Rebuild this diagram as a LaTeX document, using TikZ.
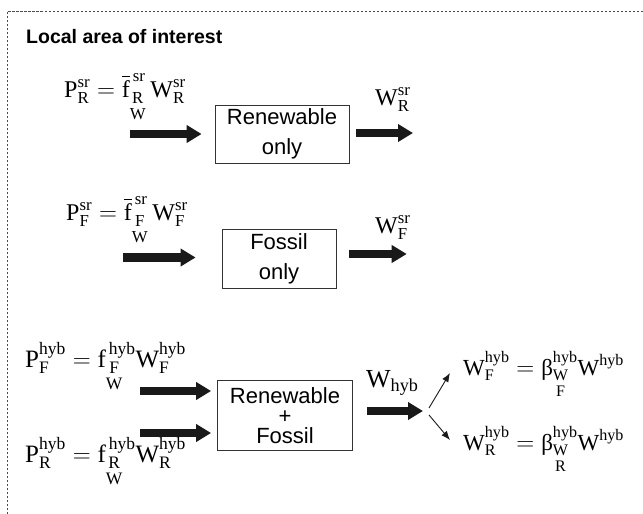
\documentclass[tikz,border=0pt]{standalone}
\usepackage{amsmath}
\usepackage{fontspec}
\setmainfont{Liberation Serif}
\newfontfamily\arialfam{Liberation Sans}
\usetikzlibrary{arrows.meta}
\newcommand{\rmx}[1]{\mathrm{#1}}
\newcommand{\stk}[2]{\vtop{\baselineskip=16pt\lineskiplimit=0pt\lineskip=0pt\halign{\hfil$\scriptstyle##$\hfil\cr\rmx{#1}\cr\rmx{#2}\cr}}}
\begin{document}
\begin{tikzpicture}[x=1pt,y=-1pt,
  eqn/.style={anchor=base west,inner sep=0pt,font=\fontsize{24}{28}\selectfont},
  procbox/.style={draw=black!80,line width=0.8pt,align=center,inner sep=0pt,
    font=\arialfam\fontsize{22}{30}\selectfont},
  bigarrow/.style={line width=8.5pt,black!90,-{Triangle[length=15pt,width=17pt]}},
  thinarrow/.style={line width=0.9pt,black!90,-{Latex[length=9pt,width=7pt]}}]
\useasboundingbox (0,0) rectangle (643,514);
\draw[gray!60!black,line width=0.8pt,dash pattern=on 2.5pt off 1.5pt] (643,11.7) -- (7,11.7) -- (7,514);
\node[anchor=base west,inner sep=0pt,font=\arialfam\bfseries\fontsize{19.5}{23}\selectfont] (title) at (26,43) {Local area of interest};

% equations
\node[eqn] (eq1) at (64,97) {$\rmx{P}^{\rmx{sr}}_{\rmx{R}} = \overline{\rmx{f}}^{\,\rmx{sr}}_{\stk{R}{W}}\,\rmx{W}^{\rmx{sr}}_{\rmx{R}}$};
\node[eqn] (eq2) at (66,220) {$\rmx{P}^{\rmx{sr}}_{\rmx{F}} = \overline{\rmx{f}}^{\,\rmx{sr}}_{\stk{F}{W}}\,\rmx{W}^{\rmx{sr}}_{\rmx{F}}$};
\node[eqn,font=\fontsize{25}{29}\selectfont] (eq3) at (25,367) {$\rmx{P}^{\rmx{hyb}}_{\rmx{F}} = \rmx{f}^{\,\rmx{hyb}}_{\stk{F}{W}}\rmx{W}^{\rmx{hyb}}_{\rmx{F}}$};
\node[eqn,font=\fontsize{25}{29}\selectfont] (eq4) at (25,462) {$\rmx{P}^{\rmx{hyb}}_{\rmx{R}} = \rmx{f}^{\,\rmx{hyb}}_{\stk{R}{W}}\rmx{W}^{\rmx{hyb}}_{\rmx{R}}$};
\node[eqn] (wr) at (375,105) {$\rmx{W}^{\rmx{sr}}_{\rmx{R}}$};
\node[eqn] (wf) at (375,233) {$\rmx{W}^{\rmx{sr}}_{\rmx{F}}$};
\node[eqn,font=\fontsize{26}{30}\selectfont] (whyb) at (366,387) {$\rmx{W}_{\rmx{hyb}}$};
\node[eqn,font=\fontsize{23}{27}\selectfont] (rf) at (463,375) {$\rmx{W}^{\rmx{hyb}}_{\rmx{F}} = \text{β}^{\rmx{hyb}}_{\stk{W}{F}}\rmx{W}^{\rmx{hyb}}$};
\node[eqn,font=\fontsize{23}{27}\selectfont] (rr) at (463,450) {$\rmx{W}^{\rmx{hyb}}_{\rmx{R}} = \text{β}^{\rmx{hyb}}_{\stk{W}{R}}\rmx{W}^{\rmx{hyb}}$};

% boxes
\node[procbox,minimum width=134pt,minimum height=58pt] (box1) at (282,134) {Renewable\\only};
\node[procbox,minimum width=114pt,minimum height=59pt] (box2) at (279,258.5) {Fossil\\only};
\node[procbox,minimum width=135pt,minimum height=70pt,font=\arialfam\fontsize{22}{20}\selectfont] (box3) at (285,415.5) {Renewable\\+\\Fossil};

% coordinates
\coordinate (in1) at (130,134);
\coordinate (out1) at (413,133);
\coordinate (in2) at (123,257.5);
\coordinate (out2) at (406.7,254);
\coordinate (in3a) at (140,391);
\coordinate (in3b) at (140,433);
\coordinate (sp) at (423,411);
\coordinate (s1) at (429,408);
\coordinate (t1) at (450,373);
\coordinate (s2) at (429,415);
\coordinate (t2) at (450,440);

% arrows
\draw[bigarrow,shorten >=13pt] (in1) -- (box1.west);
\draw[bigarrow,shorten <=7pt] (box1.east |- out1) -- (out1);
\draw[bigarrow,shorten >=26pt] (in2) -- (in2 -| box2.west);
\draw[bigarrow,shorten <=13pt] (box2.east |- out2) -- (out2);
\draw[bigarrow,shorten >=6pt] (in3a) -- (in3a -| box3.west);
\draw[bigarrow,shorten >=6pt] (in3b) -- (in3b -| box3.west);
\draw[bigarrow,shorten <=14pt] (box3.east |- sp) -- (sp);
\draw[thinarrow] (s1) -- (t1);
\draw[thinarrow] (s2) -- (t2);
\end{tikzpicture}
\end{document}
